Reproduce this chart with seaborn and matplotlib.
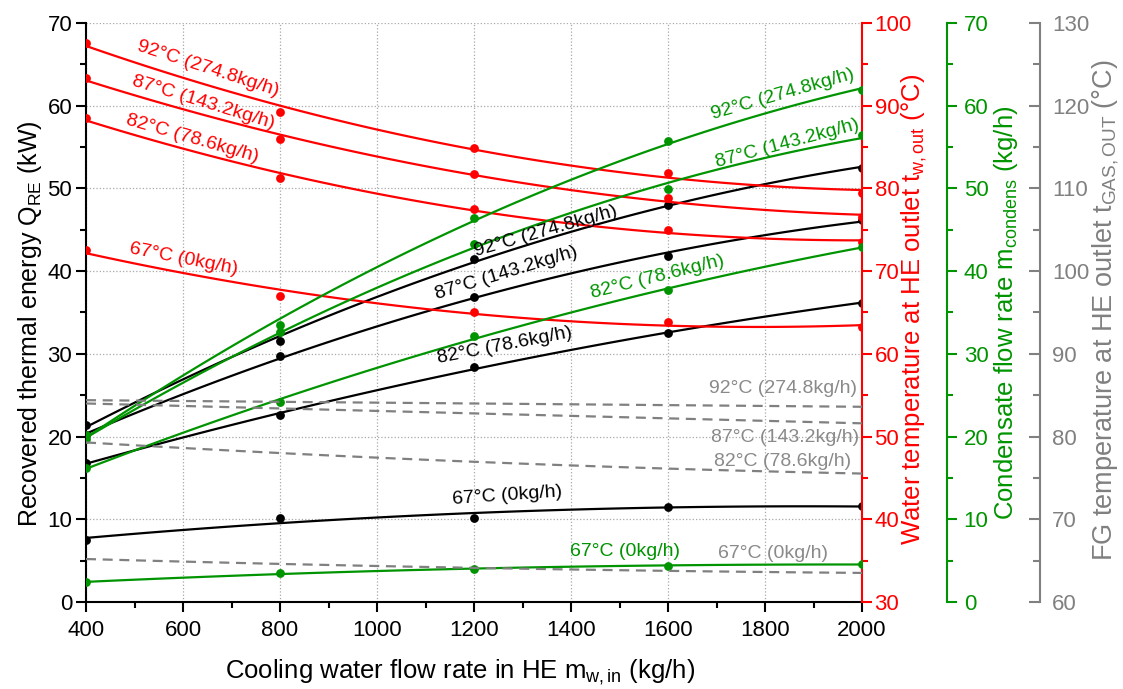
import numpy as np
import pandas as pd
import matplotlib
matplotlib.use("Agg")
import matplotlib.pyplot as plt
import seaborn as sns
from matplotlib.ticker import MultipleLocator

# ---------------- data ----------------
flow = [400, 800, 1200, 1600, 2000]
cases = ["92°C (274.8kg/h)", "87°C (143.2kg/h)", "82°C (78.6kg/h)", "67°C (0kg/h)"]

# Recovered thermal energy Q_RE (kW)  - black, left axis
q_re_92 = [21.4, 31.5, 41.5, 48.0, 52.5]
q_re_87 = [20.2, 29.7, 36.9, 41.8, 46.2]
q_re_82 = [16.8, 22.6, 28.4, 32.5, 36.2]
q_re_67 = [7.5, 10.2, 10.2, 11.5, 11.6]

# Water temperature at HE outlet (°C) - red axis
t_w_92 = [97.6, 89.2, 84.9, 81.85, 79.5]
t_w_87 = [93.3, 86.0, 81.7, 78.8, 76.6]
t_w_82 = [88.5, 81.25, 77.5, 75.0, 73.5]
t_w_67 = [72.5, 67.05, 65.0, 63.9, 63.2]

# Condensate flow rate (kg/h) - green axis
m_c_92 = [20.2, 33.5, 46.4, 55.7, 61.9]
m_c_87 = [19.7, 32.7, 43.3, 49.9, 56.4]
m_c_82 = [16.2, 24.2, 32.2, 37.7, 42.9]
m_c_67 = [2.4, 3.45, 4.0, 4.4, 4.55]

# FG temperature at HE outlet (°C) - gray axis
t_g_92 = [84.4, 84.2, 84.0, 83.8, 83.6]
t_g_87 = [84.0, 83.4, 82.8, 82.2, 81.6]
t_g_82 = [79.3, 78.0, 76.9, 76.2, 75.5]
t_g_67 = [65.2, 64.6, 64.1, 63.8, 63.5]

# ---------------- style ----------------
sns.set_theme(style="ticks")
plt.rcParams["font.family"] = ["Liberation Sans", "DejaVu Sans"]
plt.rcParams["mathtext.fontset"] = "custom"
plt.rcParams["mathtext.rm"] = "Liberation Sans"
plt.rcParams["mathtext.it"] = "Liberation Sans:italic"
plt.rcParams["text.color"] = "black"
plt.rcParams["axes.labelcolor"] = "black"
plt.rcParams["xtick.color"] = "black"
plt.rcParams["ytick.color"] = "black"

RED = "#ff0000"
GREEN = "#009400"
GRAY = "#808080"
GRAYTXT = "#8a8a8a"
BLACK = "#000000"

fig = plt.figure(figsize=(11.23, 6.89), dpi=100)
ax = fig.add_axes([0.0766, 0.1263, 0.691, 0.8403])
ax_r = ax.twinx()
ax_g = ax.twinx()
ax_k = ax.twinx()
ax_g.spines["right"].set_position(("axes", 1.1096))
ax_k.spines["right"].set_position(("axes", 1.229))

fit_kw = dict(order=2, ci=None, truncate=True)
sc_kw = dict(s=40, linewidths=0, alpha=1, clip_on=True)
ln_kw = dict(lw=1.6)

for ys in [q_re_92, q_re_87, q_re_82, q_re_67]:
    sns.regplot(x=flow, y=ys, ax=ax, color=BLACK, scatter_kws=sc_kw, line_kws=ln_kw, **fit_kw)
for ys in [t_w_92, t_w_87, t_w_82, t_w_67]:
    sns.regplot(x=flow, y=ys, ax=ax_r, color=RED, scatter_kws=sc_kw, line_kws=ln_kw, **fit_kw)
for ys in [m_c_92, m_c_87, m_c_82, m_c_67]:
    sns.regplot(x=flow, y=ys, ax=ax_g, color=GREEN, scatter_kws=sc_kw, line_kws=ln_kw, **fit_kw)
for ys in [t_g_92, t_g_87, t_g_82, t_g_67]:
    sns.regplot(x=flow, y=ys, ax=ax_k, color=GRAY, scatter=False,
                line_kws=dict(lw=1.6, ls="--", dashes=(4.5, 3)), **fit_kw)

# ---------------- axes ----------------
ax.set_xlim(400, 2000)
ax.set_ylim(0, 70)
ax_r.set_ylim(30, 100)
ax_g.set_ylim(0, 70)
ax_k.set_ylim(60, 130)

for a in (ax, ax_r, ax_g, ax_k):
    a.yaxis.set_major_locator(MultipleLocator(10))
    a.yaxis.set_minor_locator(MultipleLocator(5))
ax.xaxis.set_major_locator(MultipleLocator(200))
ax.xaxis.set_minor_locator(MultipleLocator(100))

ax.grid(True, which="major", ls=":", color="#a8a8a8", lw=0.9)
ax.spines["top"].set_visible(False)
ax.spines["right"].set_visible(False)
for s in ("left", "bottom"):
    ax.spines[s].set_linewidth(1.5)
    ax.spines[s].set_color(BLACK)

for a in (ax_r, ax_g, ax_k):
    for s in ("left", "top", "bottom"):
        a.spines[s].set_visible(False)
    a.set_xlim(400, 2000)

fs_tick = 16
ax.tick_params(axis="both", which="major", direction="out", length=7, width=1.5, labelsize=fs_tick, colors=BLACK)
ax.tick_params(axis="both", which="minor", direction="out", length=4, width=1.5)
ax.tick_params(axis="x", pad=6)
ax.tick_params(axis="y", pad=3)

ax_r.spines["right"].set_color(RED)
ax_r.spines["right"].set_linewidth(1.5)
ax_r.tick_params(axis="y", which="major", direction="out", length=7, width=1.5, colors=RED, labelsize=fs_tick, pad=2)
ax_r.tick_params(axis="y", which="minor", direction="out", length=4, width=1.5, colors=RED)

ax_g.spines["right"].set_color(GREEN)
ax_g.spines["right"].set_linewidth(1.5)
ax_g.tick_params(axis="y", which="major", direction="out", length=7, width=1.5, colors=GREEN, labelsize=fs_tick, pad=5)
ax_g.tick_params(axis="y", which="minor", direction="out", length=4, width=1.5, colors=GREEN)

ax_k.spines["right"].set_color(GRAY)
ax_k.spines["right"].set_linewidth(1.5)
ax_k.tick_params(axis="y", which="major", direction="in", length=8, width=1.5, colors=GRAY, labelsize=fs_tick, pad=9)
ax_k.tick_params(axis="y", which="minor", direction="in", length=5, width=1.5, colors=GRAY)

fs_lab = 18.5
ax.set_xlabel(r"Cooling water flow rate in HE m$_{\mathregular{w,in}}$ (kg/h)", fontsize=fs_lab)
ax.set_ylabel(r"Recovered thermal energy Q$_{\mathregular{RE}}$ (kW)", fontsize=18)
ax_r.set_ylabel(r"Water temperature at HE outlet t$_{\mathregular{w,out}}$ (°C)", fontsize=fs_lab, color=RED)
ax_g.set_ylabel(r"Condensate flow rate m$_{\mathregular{condens}}$ (kg/h)", fontsize=fs_lab, color=GREEN)
ax_k.set_ylabel(r"FG temperature at HE outlet t$_{\mathregular{GAS,OUT}}$ (°C)", fontsize=19.5, color=GRAY)

ax.xaxis.set_label_coords(0.482, -0.121)
ax.xaxis.label.set_va("center")
for a, xc, yc in ((ax, -0.0728, 0.48), (ax_r, 1.067, 0.505), (ax_g, 1.186, 0.50), (ax_k, 1.314, 0.505)):
    a.yaxis.set_label_coords(xc, yc)
    a.yaxis.label.set_va("center")
    a.yaxis.label.set_ha("center")
    a.yaxis.label.set_rotation_mode("anchor")

# ---------------- curve labels (left-axis data coordinates) ----------------
fs_ann = 14
ann = [
    # text, x, y, rotation, color
    (cases[0], 652, 64.5, -18, RED),
    (cases[1], 641, 60.4, -17, RED),
    (cases[2], 619, 56.0, -16, RED),
    (cases[3], 602, 41.4, -11, RED),
    (cases[0], 1836, 61.4, 16, GREEN),
    (cases[1], 1846, 55.4, 15, GREEN),
    (cases[2], 1578, 39.3, 14, GREEN),
    (cases[3], 1512, 6.05, 0, GREEN),
    (cases[0], 1347, 44.8, 16, BLACK),
    (cases[1], 1266, 39.8, 17, BLACK),
    (cases[2], 1264, 31.0, 11, BLACK),
    (cases[3], 1268, 12.8, 4, BLACK),
    (cases[0], 1838, 25.8, 0, GRAYTXT),
    (cases[1], 1842, 19.9, 0, GRAYTXT),
    (cases[2], 1836, 17.0, 0, GRAYTXT),
    (cases[3], 1817, 5.9, 0, GRAYTXT),
]
for txt, x, y, rot, col in ann:
    ax_k.text(x, y + 60, txt, color=col, fontsize=fs_ann, rotation=rot,
              ha="center", va="center", rotation_mode="anchor", zorder=10)

fig.savefig("out.png", dpi=100)
